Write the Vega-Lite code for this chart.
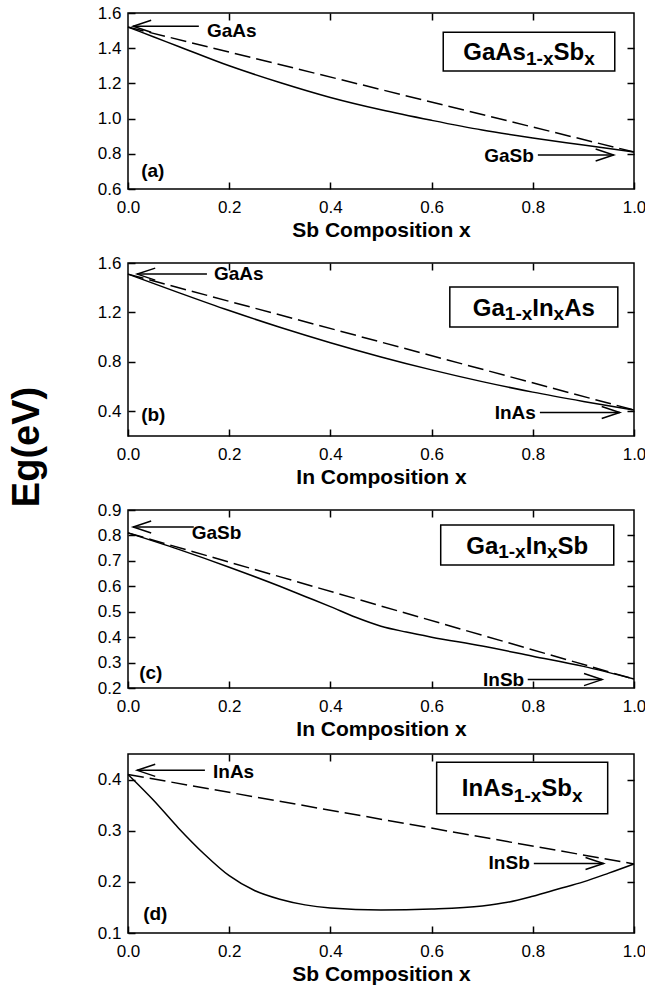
{
  "$schema": "https://vega.github.io/schema/vega-lite/v6.json",
  "padding": {"left": 8, "top": 3, "right": 5, "bottom": 2},
  "background": "white",
  "config": {
    "view": {"stroke": "black", "strokeWidth": 1.5},
    "font": "Liberation Sans",
    "axis": {"domain": false, "grid": false, "tickColor": "black", "tickSize": -7, "tickWidth": 1.5, "labelFont": "Liberation Sans", "labelFontSize": 17, "labelColor": "black", "labelFlush": false, "labelOverlap": false, "titleFont": "Liberation Sans", "titleFontSize": 21, "titleFontWeight": "bold", "titleColor": "black"},
    "axisX": {"labelPadding": 17, "titlePadding": 4},
    "axisY": {"labelPadding": 14},
    "line": {"color": "black", "strokeWidth": 1.5},
    "rule": {"color": "black", "strokeWidth": 1.5},
    "text": {"font": "Liberation Sans", "fontWeight": "bold", "fontSize": 19, "color": "black"}
  },
  "title": {"text": "Eg(eV)", "orient": "left", "anchor": "middle", "fontSize": 38, "fontWeight": "bold", "font": "Liberation Sans", "color": "black", "offset": 50, "dx": 47},
  "spacing": 12,
  "vconcat": [
    {
      "width": 506, "height": 176,
      "layer": [
        {"data": {"values": [{"x": 0, "eg": 1.52}, {"x": 1, "eg": 0.81}]},
         "mark": {"type": "line", "strokeDash": [16, 6]},
         "encoding": {
           "x": {"field": "x", "type": "quantitative", "scale": {"domain": [0, 1], "nice": false, "zero": false}, "axis": {"values": [0, 0.2, 0.4, 0.6, 0.8, 1], "format": ".1f", "title": "Sb Composition x"}},
           "y": {"field": "eg", "type": "quantitative", "scale": {"domain": [0.6, 1.6], "nice": false, "zero": false}, "axis": {"values": [0.6, 0.8, 1.0, 1.2, 1.4, 1.6], "format": ".1f", "title": null}}}},
        {"data": {"values": [{"x": 0, "eg": 1.52}, {"x": 0.05, "eg": 1.465}, {"x": 0.1, "eg": 1.41}, {"x": 0.2, "eg": 1.3}, {"x": 0.3, "eg": 1.205}, {"x": 0.4, "eg": 1.12}, {"x": 0.5, "eg": 1.05}, {"x": 0.6, "eg": 0.99}, {"x": 0.7, "eg": 0.935}, {"x": 0.8, "eg": 0.89}, {"x": 0.9, "eg": 0.85}, {"x": 1.0, "eg": 0.81}]},
         "mark": {"type": "line", "interpolate": "monotone"},
         "encoding": {
           "x": {"field": "x", "type": "quantitative", "axis": {"orient": "top", "values": [0.2, 0.4, 0.6, 0.8], "labels": false, "title": null}},
           "y": {"field": "eg", "type": "quantitative", "axis": {"orient": "right", "values": [0.8, 1.0, 1.2, 1.4], "labels": false, "title": null}}}},
        {"data": {"values": [{"x1": 0.623, "x2": 0.962, "y1": 1.27, "y2": 1.49}]},
         "mark": {"type": "rect", "fill": "white", "stroke": "black", "strokeWidth": 1.5},
         "encoding": {"x": {"field": "x1", "type": "quantitative", "axis": null}, "x2": {"field": "x2"}, "y": {"field": "y1", "type": "quantitative", "axis": null}, "y2": {"field": "y2"}}},
        {"data": {"values": [{"x": 0.6626, "y": 1.333, "t": "GaAs"}, {"x": 0.8409, "y": 1.333, "t": "Sb"}]},
         "mark": {"type": "text", "align": "left", "baseline": "alphabetic", "fontSize": 24},
         "encoding": {"x": {"field": "x", "type": "quantitative", "axis": null}, "y": {"field": "y", "type": "quantitative", "axis": null}, "text": {"field": "t"}}},
        {"data": {"values": [{"x": 0.7866, "y": 1.305, "t": "1-x"}, {"x": 0.9016, "y": 1.305, "t": "x"}]},
         "mark": {"type": "text", "align": "left", "baseline": "alphabetic", "fontSize": 19},
         "encoding": {"x": {"field": "x", "type": "quantitative", "axis": null}, "y": {"field": "y", "type": "quantitative", "axis": null}, "text": {"field": "t"}}},
        {"data": {"values": [{"x1": 0.01, "x2": 0.14, "y": 1.525}, {"x1": 0.81, "x2": 0.96, "y": 0.793}]},
         "mark": {"type": "rule"},
         "encoding": {"x": {"field": "x1", "type": "quantitative", "axis": null}, "x2": {"field": "x2"}, "y": {"field": "y", "type": "quantitative", "axis": null}}},
        {"data": {"values": [{"x": 0.028, "y": 1.525, "d": "left"}, {"x": 0.942, "y": 0.793, "d": "right"}]},
         "mark": {"type": "point", "filled": false, "stroke": "black", "strokeWidth": 1.5, "size": 324, "opacity": 1},
         "encoding": {"x": {"field": "x", "type": "quantitative", "axis": null}, "y": {"field": "y", "type": "quantitative", "axis": null},
           "shape": {"field": "d", "type": "nominal", "scale": {"domain": ["left", "right"], "range": ["M1,-0.67L-1,0L1,0.67", "M-1,-0.67L1,0L-1,0.67"]}, "legend": null}}},
        {"data": {"values": [{"x": 0.156, "y": 1.5, "t": "GaAs"}, {"x": 0.026, "y": 0.7, "t": "(a)"}]},
         "mark": {"type": "text", "align": "left", "baseline": "middle"},
         "encoding": {"x": {"field": "x", "type": "quantitative", "axis": null}, "y": {"field": "y", "type": "quantitative", "axis": null}, "text": {"field": "t"}}},
        {"data": {"values": [{"x": 0.802, "y": 0.785, "t": "GaSb"}]},
         "mark": {"type": "text", "align": "right", "baseline": "middle"},
         "encoding": {"x": {"field": "x", "type": "quantitative", "axis": null}, "y": {"field": "y", "type": "quantitative", "axis": null}, "text": {"field": "t"}}}
      ],
      "resolve": {"axis": {"x": "independent", "y": "independent"}}
    },
    {
      "width": 506, "height": 173,
      "layer": [
        {"data": {"values": [{"x": 0, "eg": 1.51}, {"x": 1, "eg": 0.41}]},
         "mark": {"type": "line", "strokeDash": [16, 6]},
         "encoding": {
           "x": {"field": "x", "type": "quantitative", "scale": {"domain": [0, 1], "nice": false, "zero": false}, "axis": {"values": [0, 0.2, 0.4, 0.6, 0.8, 1], "format": ".1f", "title": "In Composition x"}},
           "y": {"field": "eg", "type": "quantitative", "scale": {"domain": [0.2, 1.6], "nice": false, "zero": false}, "axis": {"values": [0.4, 0.8, 1.2, 1.6], "format": ".1f", "title": null}}}},
        {"data": {"values": [{"x": 0, "eg": 1.51}, {"x": 0.1, "eg": 1.36}, {"x": 0.2, "eg": 1.215}, {"x": 0.3, "eg": 1.08}, {"x": 0.4, "eg": 0.955}, {"x": 0.5, "eg": 0.84}, {"x": 0.6, "eg": 0.735}, {"x": 0.7, "eg": 0.64}, {"x": 0.8, "eg": 0.555}, {"x": 0.9, "eg": 0.48}, {"x": 1.0, "eg": 0.41}]},
         "mark": {"type": "line", "interpolate": "monotone"},
         "encoding": {
           "x": {"field": "x", "type": "quantitative", "axis": {"orient": "top", "values": [0.2, 0.4, 0.6, 0.8], "labels": false, "title": null}},
           "y": {"field": "eg", "type": "quantitative", "axis": {"orient": "right", "values": [0.4, 0.8, 1.2], "labels": false, "title": null}}}},
        {"data": {"values": [{"x1": 0.636, "x2": 0.968, "y1": 1.082, "y2": 1.406}]},
         "mark": {"type": "rect", "fill": "white", "stroke": "black", "strokeWidth": 1.5},
         "encoding": {"x": {"field": "x1", "type": "quantitative", "axis": null}, "x2": {"field": "x2"}, "y": {"field": "y1", "type": "quantitative", "axis": null}, "y2": {"field": "y2"}}},
        {"data": {"values": [{"x": 0.6814, "y": 1.1751, "t": "Ga"}, {"x": 0.799, "y": 1.1751, "t": "In"}, {"x": 0.8621, "y": 1.1751, "t": "As"}]},
         "mark": {"type": "text", "align": "left", "baseline": "alphabetic", "fontSize": 24},
         "encoding": {"x": {"field": "x", "type": "quantitative", "axis": null}, "y": {"field": "y", "type": "quantitative", "axis": null}, "text": {"field": "t"}}},
        {"data": {"values": [{"x": 0.7447, "y": 1.1347, "t": "1-x"}, {"x": 0.8411, "y": 1.1347, "t": "x"}]},
         "mark": {"type": "text", "align": "left", "baseline": "alphabetic", "fontSize": 19},
         "encoding": {"x": {"field": "x", "type": "quantitative", "axis": null}, "y": {"field": "y", "type": "quantitative", "axis": null}, "text": {"field": "t"}}},
        {"data": {"values": [{"x1": 0.018, "x2": 0.156, "y": 1.51}, {"x1": 0.814, "x2": 0.972, "y": 0.39}]},
         "mark": {"type": "rule"},
         "encoding": {"x": {"field": "x1", "type": "quantitative", "axis": null}, "x2": {"field": "x2"}, "y": {"field": "y", "type": "quantitative", "axis": null}}},
        {"data": {"values": [{"x": 0.036, "y": 1.51, "d": "left"}, {"x": 0.954, "y": 0.39, "d": "right"}]},
         "mark": {"type": "point", "filled": false, "stroke": "black", "strokeWidth": 1.5, "size": 324, "opacity": 1},
         "encoding": {"x": {"field": "x", "type": "quantitative", "axis": null}, "y": {"field": "y", "type": "quantitative", "axis": null},
           "shape": {"field": "d", "type": "nominal", "scale": {"domain": ["left", "right"], "range": ["M1,-0.67L-1,0L1,0.67", "M-1,-0.67L1,0L-1,0.67"]}, "legend": null}}},
        {"data": {"values": [{"x": 0.17, "y": 1.51, "t": "GaAs"}, {"x": 0.026, "y": 0.37, "t": "(b)"}]},
         "mark": {"type": "text", "align": "left", "baseline": "middle"},
         "encoding": {"x": {"field": "x", "type": "quantitative", "axis": null}, "y": {"field": "y", "type": "quantitative", "axis": null}, "text": {"field": "t"}}},
        {"data": {"values": [{"x": 0.806, "y": 0.39, "t": "InAs"}]},
         "mark": {"type": "text", "align": "right", "baseline": "middle"},
         "encoding": {"x": {"field": "x", "type": "quantitative", "axis": null}, "y": {"field": "y", "type": "quantitative", "axis": null}, "text": {"field": "t"}}}
      ],
      "resolve": {"axis": {"x": "independent", "y": "independent"}}
    },
    {
      "width": 506, "height": 178,
      "layer": [
        {"data": {"values": [{"x": 0, "eg": 0.81}, {"x": 1, "eg": 0.235}]},
         "mark": {"type": "line", "strokeDash": [16, 6]},
         "encoding": {
           "x": {"field": "x", "type": "quantitative", "scale": {"domain": [0, 1], "nice": false, "zero": false}, "axis": {"values": [0, 0.2, 0.4, 0.6, 0.8, 1], "format": ".1f", "title": "In Composition x"}},
           "y": {"field": "eg", "type": "quantitative", "scale": {"domain": [0.2, 0.9], "nice": false, "zero": false}, "axis": {"values": [0.2, 0.3, 0.4, 0.5, 0.6, 0.7, 0.8, 0.9], "format": ".1f", "title": null}}}},
        {"data": {"values": [{"x": 0, "eg": 0.81}, {"x": 0.1, "eg": 0.745}, {"x": 0.2, "eg": 0.675}, {"x": 0.3, "eg": 0.6}, {"x": 0.35, "eg": 0.56}, {"x": 0.4, "eg": 0.52}, {"x": 0.45, "eg": 0.478}, {"x": 0.5, "eg": 0.443}, {"x": 0.55, "eg": 0.42}, {"x": 0.6, "eg": 0.4}, {"x": 0.7, "eg": 0.365}, {"x": 0.8, "eg": 0.325}, {"x": 0.9, "eg": 0.285}, {"x": 1.0, "eg": 0.235}]},
         "mark": {"type": "line", "interpolate": "monotone"},
         "encoding": {
           "x": {"field": "x", "type": "quantitative", "axis": {"orient": "top", "values": [0.2, 0.4, 0.6, 0.8], "labels": false, "title": null}},
           "y": {"field": "eg", "type": "quantitative", "axis": {"orient": "right", "values": [0.3, 0.4, 0.5, 0.6, 0.7, 0.8], "labels": false, "title": null}}}},
        {"data": {"values": [{"x1": 0.618, "x2": 0.96, "y1": 0.684, "y2": 0.841}]},
         "mark": {"type": "rect", "fill": "white", "stroke": "black", "strokeWidth": 1.5},
         "encoding": {"x": {"field": "x1", "type": "quantitative", "axis": null}, "x2": {"field": "x2"}, "y": {"field": "y1", "type": "quantitative", "axis": null}, "y2": {"field": "y2"}}},
        {"data": {"values": [{"x": 0.6684, "y": 0.7289, "t": "Ga"}, {"x": 0.786, "y": 0.7289, "t": "In"}, {"x": 0.849, "y": 0.7289, "t": "Sb"}]},
         "mark": {"type": "text", "align": "left", "baseline": "alphabetic", "fontSize": 24},
         "encoding": {"x": {"field": "x", "type": "quantitative", "axis": null}, "y": {"field": "y", "type": "quantitative", "axis": null}, "text": {"field": "t"}}},
        {"data": {"values": [{"x": 0.7316, "y": 0.7093, "t": "1-x"}, {"x": 0.8281, "y": 0.7093, "t": "x"}]},
         "mark": {"type": "text", "align": "left", "baseline": "alphabetic", "fontSize": 19},
         "encoding": {"x": {"field": "x", "type": "quantitative", "axis": null}, "y": {"field": "y", "type": "quantitative", "axis": null}, "text": {"field": "t"}}},
        {"data": {"values": [{"x1": 0.01, "x2": 0.13, "y": 0.833}, {"x1": 0.79, "x2": 0.937, "y": 0.233}]},
         "mark": {"type": "rule"},
         "encoding": {"x": {"field": "x1", "type": "quantitative", "axis": null}, "x2": {"field": "x2"}, "y": {"field": "y", "type": "quantitative", "axis": null}}},
        {"data": {"values": [{"x": 0.028, "y": 0.833, "d": "left"}, {"x": 0.919, "y": 0.233, "d": "right"}]},
         "mark": {"type": "point", "filled": false, "stroke": "black", "strokeWidth": 1.5, "size": 324, "opacity": 1},
         "encoding": {"x": {"field": "x", "type": "quantitative", "axis": null}, "y": {"field": "y", "type": "quantitative", "axis": null},
           "shape": {"field": "d", "type": "nominal", "scale": {"domain": ["left", "right"], "range": ["M1,-0.67L-1,0L1,0.67", "M-1,-0.67L1,0L-1,0.67"]}, "legend": null}}},
        {"data": {"values": [{"x": 0.126, "y": 0.81, "t": "GaSb"}, {"x": 0.022, "y": 0.26, "t": "(c)"}]},
         "mark": {"type": "text", "align": "left", "baseline": "middle"},
         "encoding": {"x": {"field": "x", "type": "quantitative", "axis": null}, "y": {"field": "y", "type": "quantitative", "axis": null}, "text": {"field": "t"}}},
        {"data": {"values": [{"x": 0.783, "y": 0.233, "t": "InSb"}]},
         "mark": {"type": "text", "align": "right", "baseline": "middle"},
         "encoding": {"x": {"field": "x", "type": "quantitative", "axis": null}, "y": {"field": "y", "type": "quantitative", "axis": null}, "text": {"field": "t"}}}
      ],
      "resolve": {"axis": {"x": "independent", "y": "independent"}}
    },
    {
      "width": 506, "height": 179,
      "layer": [
        {"data": {"values": [{"x": 0, "eg": 0.41}, {"x": 1, "eg": 0.235}]},
         "mark": {"type": "line", "strokeDash": [16, 6]},
         "encoding": {
           "x": {"field": "x", "type": "quantitative", "scale": {"domain": [0, 1], "nice": false, "zero": false}, "axis": {"values": [0, 0.2, 0.4, 0.6, 0.8, 1], "format": ".1f", "title": "Sb Composition x"}},
           "y": {"field": "eg", "type": "quantitative", "scale": {"domain": [0.1, 0.45], "nice": false, "zero": false}, "axis": {"values": [0.1, 0.2, 0.3, 0.4], "format": ".1f", "title": null}}}},
        {"data": {"values": [{"x": 0, "eg": 0.41}, {"x": 0.05, "eg": 0.36}, {"x": 0.1, "eg": 0.305}, {"x": 0.15, "eg": 0.255}, {"x": 0.2, "eg": 0.212}, {"x": 0.25, "eg": 0.183}, {"x": 0.3, "eg": 0.166}, {"x": 0.35, "eg": 0.155}, {"x": 0.4, "eg": 0.149}, {"x": 0.5, "eg": 0.145}, {"x": 0.6, "eg": 0.147}, {"x": 0.7, "eg": 0.153}, {"x": 0.75, "eg": 0.16}, {"x": 0.8, "eg": 0.172}, {"x": 0.85, "eg": 0.186}, {"x": 0.9, "eg": 0.2}, {"x": 0.95, "eg": 0.217}, {"x": 1.0, "eg": 0.235}]},
         "mark": {"type": "line", "interpolate": "monotone"},
         "encoding": {
           "x": {"field": "x", "type": "quantitative", "axis": {"orient": "top", "values": [0.2, 0.4, 0.6, 0.8], "labels": false, "title": null}},
           "y": {"field": "eg", "type": "quantitative", "axis": {"orient": "right", "values": [0.2, 0.3, 0.4], "labels": false, "title": null}}}},
        {"data": {"values": [{"x1": 0.61, "x2": 0.948, "y1": 0.333, "y2": 0.434}]},
         "mark": {"type": "rect", "fill": "white", "stroke": "black", "strokeWidth": 1.5},
         "encoding": {"x": {"field": "x1", "type": "quantitative", "axis": null}, "x2": {"field": "x2"}, "y": {"field": "y1", "type": "quantitative", "axis": null}, "y2": {"field": "y2"}}},
        {"data": {"values": [{"x": 0.6597, "y": 0.3669, "t": "InAs"}, {"x": 0.8168, "y": 0.3669, "t": "Sb"}]},
         "mark": {"type": "text", "align": "left", "baseline": "alphabetic", "fontSize": 24},
         "encoding": {"x": {"field": "x", "type": "quantitative", "axis": null}, "y": {"field": "y", "type": "quantitative", "axis": null}, "text": {"field": "t"}}},
        {"data": {"values": [{"x": 0.7625, "y": 0.3571, "t": "1-x"}, {"x": 0.8775, "y": 0.3571, "t": "x"}]},
         "mark": {"type": "text", "align": "left", "baseline": "alphabetic", "fontSize": 19},
         "encoding": {"x": {"field": "x", "type": "quantitative", "axis": null}, "y": {"field": "y", "type": "quantitative", "axis": null}, "text": {"field": "t"}}},
        {"data": {"values": [{"x1": 0.018, "x2": 0.152, "y": 0.418}, {"x1": 0.802, "x2": 0.94, "y": 0.236}]},
         "mark": {"type": "rule"},
         "encoding": {"x": {"field": "x1", "type": "quantitative", "axis": null}, "x2": {"field": "x2"}, "y": {"field": "y", "type": "quantitative", "axis": null}}},
        {"data": {"values": [{"x": 0.036, "y": 0.418, "d": "left"}, {"x": 0.922, "y": 0.236, "d": "right"}]},
         "mark": {"type": "point", "filled": false, "stroke": "black", "strokeWidth": 1.5, "size": 324, "opacity": 1},
         "encoding": {"x": {"field": "x", "type": "quantitative", "axis": null}, "y": {"field": "y", "type": "quantitative", "axis": null},
           "shape": {"field": "d", "type": "nominal", "scale": {"domain": ["left", "right"], "range": ["M1,-0.67L-1,0L1,0.67", "M-1,-0.67L1,0L-1,0.67"]}, "legend": null}}},
        {"data": {"values": [{"x": 0.168, "y": 0.415, "t": "InAs"}, {"x": 0.03, "y": 0.137, "t": "(d)"}]},
         "mark": {"type": "text", "align": "left", "baseline": "middle"},
         "encoding": {"x": {"field": "x", "type": "quantitative", "axis": null}, "y": {"field": "y", "type": "quantitative", "axis": null}, "text": {"field": "t"}}},
        {"data": {"values": [{"x": 0.794, "y": 0.236, "t": "InSb"}]},
         "mark": {"type": "text", "align": "right", "baseline": "middle"},
         "encoding": {"x": {"field": "x", "type": "quantitative", "axis": null}, "y": {"field": "y", "type": "quantitative", "axis": null}, "text": {"field": "t"}}}
      ],
      "resolve": {"axis": {"x": "independent", "y": "independent"}}
    }
  ]
}
